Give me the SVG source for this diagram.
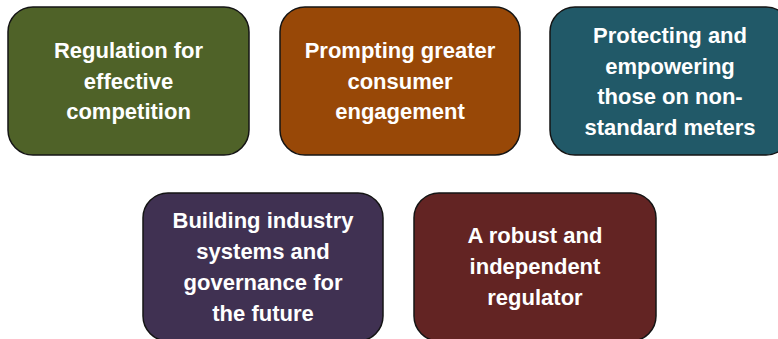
<svg xmlns="http://www.w3.org/2000/svg" width="778" height="339" viewBox="0 0 778 339">
  <style>
    .box { stroke: #141414; stroke-width: 1.5; }
    .label { font-family: "Liberation Sans", Arial, sans-serif; font-weight: bold; font-size: 22px; fill: #ffffff; text-anchor: middle; }
  </style>
  <rect width="778" height="339" fill="#ffffff"/>

  <g id="node-competition">
    <rect class="box" x="8" y="7" width="241" height="148" rx="25" ry="25" fill="#4f6228"/>
    <text class="label" x="128.5" y="58">Regulation for</text>
    <text class="label" x="128.5" y="89">effective</text>
    <text class="label" x="128.5" y="119">competition</text>
  </g>

  <g id="node-engagement">
    <rect class="box" x="280" y="7" width="240" height="148" rx="25" ry="25" fill="#984807"/>
    <text class="label" x="400" y="58">Prompting greater</text>
    <text class="label" x="400" y="89">consumer</text>
    <text class="label" x="400" y="119">engagement</text>
  </g>

  <g id="node-protecting">
    <rect class="box" x="550" y="7" width="241" height="148" rx="25" ry="25" fill="#215968"/>
    <text class="label" x="670" y="43">Protecting and</text>
    <text class="label" x="670" y="74">empowering</text>
    <text class="label" x="670" y="104">those on non-</text>
    <text class="label" x="670" y="135">standard meters</text>
  </g>

  <g id="node-systems">
    <rect class="box" x="143" y="193" width="240" height="148" rx="25" ry="25" fill="#403152"/>
    <text class="label" x="263" y="228">Building industry</text>
    <text class="label" x="263" y="259">systems and</text>
    <text class="label" x="263" y="290">governance for</text>
    <text class="label" x="263" y="321">the future</text>
  </g>

  <g id="node-regulator">
    <rect class="box" x="414" y="193" width="242" height="148" rx="25" ry="25" fill="#632423"/>
    <text class="label" x="535" y="243">A robust and</text>
    <text class="label" x="535" y="274">independent</text>
    <text class="label" x="535" y="305">regulator</text>
  </g>

  <g id="connectors"></g>
</svg>
